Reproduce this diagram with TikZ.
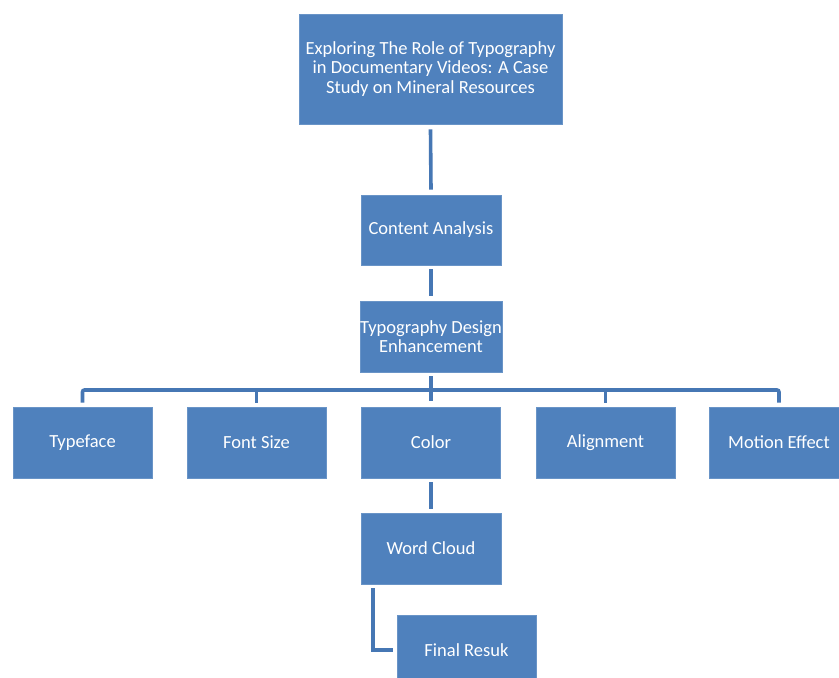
\documentclass[tikz,border=0pt]{standalone}
\usepackage{fontspec}
\setmainfont{Carlito}
\definecolor{boxblue}{HTML}{4F81BD}
\definecolor{lineblue}{HTML}{4677B4}
\begin{document}
\begin{tikzpicture}[x=1pt,y=-1pt,
  box/.style={fill=boxblue, draw=boxblue!85!white, line width=0.6pt, text=white, inner sep=0pt,
    align=center, font=\fontsize{18.5}{19.5}\selectfont},
  conn/.style={draw=lineblue, line width=3.6pt}]
\clip (0,0) rectangle (839,678);
\fill[white] (0,0) rectangle (839,678);
\node[box, minimum width=263pt, minimum height=110pt] (top) at (430.5,69)
  {Exploring The Role of Typography\\in Documentary Videos: A Case\\Study on Mineral Resources};
\node[box, minimum width=140pt, minimum height=70pt] (ca) at (431,230) {Content Analysis};
\node[box, minimum width=140pt, minimum height=71pt] (tde) at (431,336.5) {Typography Design\\Enhancement};
\node[box, minimum width=139pt, minimum height=71pt] (typeface) at (82.5,442.5) {Typeface};
\node[box, minimum width=139pt, minimum height=71pt] (fontsize) at (256.5,442.5) {Font Size};
\node[box, minimum width=139pt, minimum height=71pt] (color) at (431,442.5) {Color};
\node[box, minimum width=139pt, minimum height=71pt] (alignment) at (605.5,442.5) {Alignment};
\node[box, minimum width=140pt, minimum height=71pt] (motion) at (779,442.5) {Motion Effect};
\node[box, minimum width=140pt, minimum height=71pt] (wc) at (431,548.5) {Word Cloud};
\node[box, minimum width=139pt, minimum height=70pt] (final) at (466.5,650) {Final Resuk};
\coordinate (bus) at (431,390);
\draw[conn] ([yshift=-5pt]top.south) -- ([yshift=5pt]ca.north);
\draw[conn] ([yshift=-4pt]ca.south) -- ([yshift=5pt]tde.north);
\draw[conn] ([yshift=-4pt]tde.south) -- ([yshift=6pt]color.north);
\draw[conn, rounded corners=2pt] ([yshift=4pt]typeface.north) |- (bus) -| ([yshift=4pt]motion.north);
\draw[conn] ([yshift=4pt]fontsize.north) -- (fontsize.north |- bus);
\draw[conn] ([yshift=4pt]alignment.north) -- (alignment.north |- bus);
\draw[conn] ([yshift=-4pt]color.south) -- ([yshift=4pt]wc.north);
\draw[conn] ([xshift=-58pt,yshift=-4pt]wc.south) |- ([xshift=-4pt]final.west);
\end{tikzpicture}
\end{document}
